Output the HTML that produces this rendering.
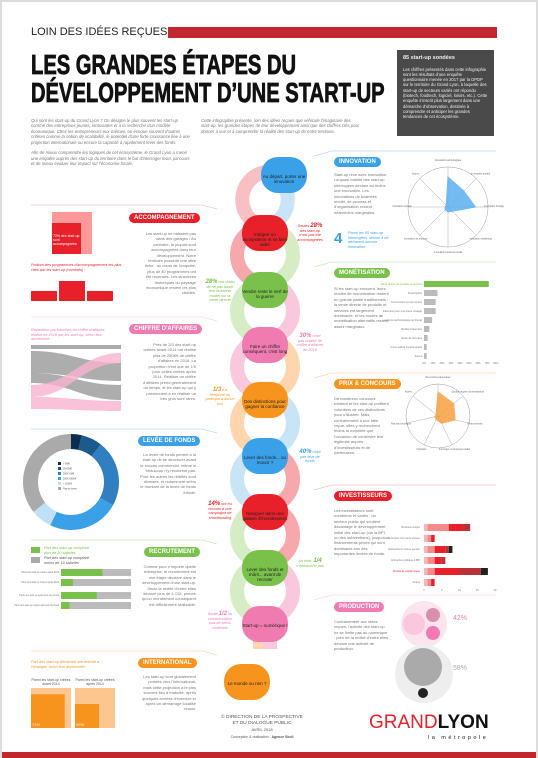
<!DOCTYPE html>
<html><head><meta charset="utf-8">
<style>
*{margin:0;padding:0;box-sizing:border-box}
body{width:538px;height:758px;background:#ddd;font-family:"Liberation Sans",sans-serif;overflow:hidden}
#page{position:absolute;left:2px;top:2px;width:534px;height:756px;background:#fff}
.a{position:absolute}
.t{font-size:4px;color:#777;line-height:5.4px}
.pill{position:absolute;color:#fff;font-weight:bold;font-size:6px;border-radius:6px;padding:2px 5px;white-space:nowrap}
.node{position:absolute;width:46px;height:36px;border-radius:17px;color:#222;font-size:4.5px;text-align:center;line-height:5px;padding-top:17px}
.cap{font-size:3.8px;font-style:italic;line-height:4.6px}
</style></head><body>
<div id="page">
<div class="a" style="left:29px;top:24px;font-size:11px;color:#222">LOIN DES IDÉES REÇUES</div>
<div class="a" style="left:166px;top:25px;width:329px;height:11px;background:#c1272d"></div>
<div class="a" style="left:29px;top:49px;font-size:28px;font-weight:bold;line-height:28px;white-space:nowrap;transform:scaleX(0.72);transform-origin:left top;color:#111;-webkit-text-stroke:0.8px #111">LES GRANDES ÉTAPES DU<br>DÉVELOPPEMENT D’UNE START-UP</div>
<div class="a" style="left:395px;top:48px;width:97px;height:86px;background:#4a4a4a;color:#eee;padding:5px 6px;font-size:4.2px;line-height:5.3px"><b style="font-size:5.5px">85 start-up sondées</b><br><br>Les chiffres présentés dans cette infographie sont les résultats d'une enquête questionnaire menée en 2017 par la DPDP sur le territoire du Grand Lyon, à laquelle des start-up de secteurs variés ont répondu (biotech, foodtech, logiciel, loisirs, etc.). Cette enquête s'inscrit plus largement dans une démarche d'observation, destinée à comprendre et anticiper les grandes tendances de cet écosystème.</div>
<div class="a t" style="left:29px;top:116px;width:160px;font-style:italic;font-size:4.3px">Qui sont les start-up du Grand Lyon ? On désigne le plus souvent les start-up comme des entreprises jeunes, innovantes et à la recherche d'un modèle économique. Chez les entrepreneurs eux-mêmes, on évoque souvent d'autres critères comme la notion de scalabilité, le potentiel d'une forte croissance liée à une projection internationale ou encore la capacité à rapidement lever des fonds.<br><br>Afin de mieux comprendre les logiques de cet écosystème, le Grand Lyon a mené une enquête auprès des start-up du territoire dans le but d'interroger leurs parcours et de mieux évaluer leur impact sur l'économie locale.</div>
<div class="a t" style="left:199px;top:116px;width:160px;font-style:italic;font-size:4.3px">Cette infographie présente, loin des idées reçues que véhicule l'imaginaire des start-up, les grandes étapes de leur développement ainsi que des chiffres clés pour donner à voir et à comprendre la réalité des start-up de notre territoire.</div>

<svg class="a" style="left:0;top:0" width="534" height="756">
<g fill="none" stroke-width="14">
<path d="M263 170 a28 28 0 0 0 0 55" stroke="#f9c0c4"/><path d="M263 170 a28 28 0 0 1 0 55" stroke="#c9e3f7"/>
<path d="M263 225 a28 28 0 0 0 0 56" stroke="#f7a8ad"/><path d="M263 225 a28 28 0 0 1 0 56" stroke="#d5ecc4"/>
<path d="M263 281 a28 28 0 0 0 0 56" stroke="#d5ecc4"/><path d="M263 281 a28 28 0 0 1 0 56" stroke="#f9c8dc"/>
<path d="M263 337 a28 28 0 0 0 0 56" stroke="#f9c8dc"/><path d="M263 337 a28 28 0 0 1 0 56" stroke="#fdd6b0"/>
<path d="M263 393 a28 28 0 0 0 0 56" stroke="#fdd6b0"/><path d="M263 393 a28 28 0 0 1 0 56" stroke="#c9e3f7"/>
<path d="M263 449 a28 28 0 0 0 0 56" stroke="#c9e3f7"/><path d="M263 449 a28 28 0 0 1 0 56" stroke="#f7a8ad"/>
<path d="M263 505 a28 28 0 0 0 0 56" stroke="#d5ecc4"/><path d="M263 505 a28 28 0 0 1 0 56" stroke="#f7a8ad"/>
<path d="M263 561 a28 28 0 0 0 0 56" stroke="#d5ecc4"/><path d="M263 561 a28 28 0 0 1 0 56" stroke="#f9c8dc"/>
<path d="M258 617 v30" stroke="#fdd6b0"/><path d="M268 617 v30" stroke="#f9c8dc"/>
</g>
<g stroke-width="0.6" fill="none">
<path d="M29 203 L200 203 L215 207" stroke="#f7a8ad"/><path d="M29 315 L200 315 L215 319" stroke="#f9c8dc"/>
<path d="M29 427 L200 427 L215 431" stroke="#9cc9ef"/><path d="M29 538 L200 538 L215 542" stroke="#b9dca3"/>
<path d="M29 649 L200 649 L215 653" stroke="#fdc28a"/>
<path d="M312 154 L330 149 L494 149" stroke="#9cc9ef"/><path d="M312 265 L330 260 L494 260" stroke="#b9dca3"/>
<path d="M312 376 L330 371 L494 371" stroke="#fdc28a"/><path d="M312 488 L330 483 L494 483" stroke="#f7a8ad"/>
<path d="M312 598 L330 593 L494 593" stroke="#f9c8dc"/>
</g>
</svg>

<div class="node" style="left:259px;top:155px;background:#3aa0e8">Au départ, porter une innovation</div>
<div class="node" style="left:240px;top:213px;background:#e8202a">Intégrer un écosystème et se faire aider</div>
<div class="node" style="left:240px;top:270px;background:#79c14a">Vendre reste le nerf de la guerre</div>
<div class="node" style="left:240px;top:325px;background:#f07bb0">Faire un chiffre conséquent, c'est long</div>
<div class="node" style="left:240px;top:380px;background:#f7941d">Des distinctions pour gagner la confiance</div>
<div class="node" style="left:240px;top:436px;background:#3aa0e8">Lever des fonds... ou mourir ?</div>
<div class="node" style="left:240px;top:492px;background:#e8202a">Naviguer dans une galaxie d'investisseurs</div>
<div class="node" style="left:240px;top:548px;background:#79c14a">Lever des fonds et mûrir... avant de recruter</div>
<div class="node" style="left:240px;top:604px;background:#f07bb0">Start-up = numérique !</div>
<div class="node" style="left:222px;top:662px;background:#f7941d">Le monde ou rien ?</div>

<div class="pill" style="left:127px;top:211px;background:#e8202a">ACCOMPAGNEMENT</div>
<div class="pill" style="left:127px;top:322px;background:#f07bb0">CHIFFRE D'AFFAIRES</div>
<div class="pill" style="left:136px;top:434px;background:#3aa0e8">LEVÉE DE FONDS</div>
<div class="pill" style="left:142px;top:545px;background:#79c14a">RECRUTEMENT</div>
<div class="pill" style="left:136px;top:656px;background:#f7941d">INTERNATIONAL</div>
<div class="pill" style="left:332px;top:155px;background:#3aa0e8">INNOVATION</div>
<div class="pill" style="left:332px;top:266px;background:#79c14a">MONÉTISATION</div>
<div class="pill" style="left:332px;top:377px;background:#f7941d">PRIX &amp; CONCOURS</div>
<div class="pill" style="left:332px;top:489px;background:#e8202a">INVESTISSEURS</div>
<div class="pill" style="left:332px;top:600px;background:#f07bb0">PRODUCTION</div>

<div class="a t" style="left:140px;top:229px;width:54px;text-align:right">Les start-up ne naissent pas dans des garages ! Au contraire, la plupart sont accompagnées dans leur développement. Notre territoire possède une offre riche : au cours de l'enquête, plus de 40 programmes ont été recensés. Les structures historiques du paysage économique restent les plus visibles.</div>
<div class="a t" style="left:140px;top:340px;width:54px;text-align:right">Près de 2/3 des start-up créées avant 2014 ont réalisé plus de 250K€ de chiffre d'affaires en 2016. La proportion n'est que de 1/5 pour celles créées après 2014. Réaliser un chiffre d'affaires prend généralement du temps, et les start-up qui y parviennent à en réaliser un très gros sont rares.</div>
<div class="a t" style="left:138px;top:450px;width:56px;text-align:right">La levée de fonds permet à la start-up de se structurer avant le succès commercial, même si beaucoup n'y recourent pas. Pour les autres les réalités sont diverses, et notamment selon le montant de la levée de fonds initiale.</div>
<div class="a t" style="left:138px;top:562px;width:56px;text-align:right">Comme pour n'importe quelle entreprise, le recrutement est une étape décisive dans le développement d'une start-up. Seule la moitié d'entre elles déclare plus de 4 CDI, preuve qu'un recrutement conséquent est difficilement réalisable.</div>
<div class="a t" style="left:138px;top:672px;width:56px;text-align:right">Les start-up sont globalement portées vers l'international, mais cette projection a le plus souvent lieu à maturité, après quelques années d'exercice et après un démarrage localisé réussi.</div>
<div class="a t" style="left:332px;top:170px;width:55px">Start-up rime avec innovation. La quasi-totalité des start-up interrogées déclare au moins une innovation. Les innovations de business model, de process et d'organisation restent néanmoins marginales.</div>
<div class="a" style="left:332px;top:228px;font-size:15px;font-weight:bold;color:#3aa0e8">4</div>
<div class="a cap" style="left:346px;top:229px;width:42px;color:#3aa0e8">Parmi les 85 start-up interrogées, seules 4 ne déclarent aucune innovation</div>
<div class="a t" style="left:332px;top:284px;width:55px">Si les start-up innovent, leurs modes de monétisation restent en grande partie traditionnels : la vente directe de produits et services est largement dominante, et les modes de monétisation alternatifs restent assez marginaux.</div>
<div class="a t" style="left:332px;top:394px;width:55px">De nombreux concours existent et les start-up profitent volontiers de ces distinctions pour s'illustrer. Mais, contrairement à une idée reçue, elles y recherchent moins la notoriété que l'occasion de construire leur légitimité auprès d'investisseurs et de partenaires.</div>
<div class="a t" style="left:332px;top:506px;width:55px">Les investisseurs sont nombreux et variés : du secteur public qui soutient davantage le développement initial des start-up (via la BPI ou des subventions), jusqu'aux financements privés qui sont dominants lors des importantes levées de fonds.</div>
<div class="a t" style="left:332px;top:617px;width:55px">Contrairement aux idées reçues, l'activité des start-up ne se limite pas au numérique : près de la moitié d'entre elles déclare une activité de production.</div>

<div class="a cap" style="left:294px;top:222px;width:28px;color:#e8202a;text-align:center">Seules <b style="font-size:6px">28%</b> des start-up n'ont pas été accompagnées</div>
<div class="a cap" style="left:203px;top:278px;width:30px;color:#79c14a;text-align:center"><b style="font-size:6px">28%</b> ont choisi de ne pas baser leur business model sur la vente directe</div>
<div class="a cap" style="left:294px;top:332px;width:28px;color:#f07bb0;text-align:center"><b style="font-size:6px">30%</b> n'ont pas réalisé de chiffre d'affaires en 2016</div>
<div class="a cap" style="left:203px;top:386px;width:30px;color:#f7941d;text-align:center"><b style="font-size:6px">1/3</b> n'a remporté ou participé à aucun prix</div>
<div class="a cap" style="left:294px;top:448px;width:28px;color:#3aa0e8;text-align:center"><b style="font-size:6px">40%</b> n'ont pas levé de fonds</div>
<div class="a cap" style="left:203px;top:500px;width:30px;color:#e8202a;text-align:center"><b style="font-size:6px">14%</b> ont eu recours à une campagne de crowdfunding</div>
<div class="a cap" style="left:294px;top:557px;width:28px;color:#79c14a;text-align:center">Au total, <b style="font-size:6px">1/4</b> n'embauche pas</div>
<div class="a cap" style="left:203px;top:610px;width:30px;color:#f07bb0;text-align:center">Seule <b style="font-size:6px">1/2</b> ne commercialise pas de biens matériels</div>

<div class="a" style="left:50px;top:210px;width:40px;height:42px;background:#f99"></div>
<div class="a" style="left:50px;top:221px;width:29px;height:31px;background:#e8202a;color:#fff;font-size:3.5px;padding:11px 1px 0">72% des start-up sont accompagnées</div>
<div class="a cap" style="left:29px;top:261px;width:95px;color:#e8202a">Podium des programmes d'accompagnement les plus cités par les start-up (nominés) :</div>
<div class="a" style="left:29px;top:289px;width:26px;height:10px;background:#e8202a"></div>
<div class="a" style="left:57px;top:279px;width:26px;height:20px;background:#e8202a"></div>
<div class="a" style="left:85px;top:289px;width:26px;height:10px;background:#e8202a"></div>
<div class="a cap" style="left:29px;top:326px;width:85px;color:#f07bb0">Répartition par tranches du chiffre d'affaires réalisé en 2016 par les start-up, selon leur ancienneté :</div>
<svg class="a" style="left:29px;top:341px" width="90" height="70">
<path d="M0 2 C40 2 50 2 90 2 L90 6 C50 6 40 6 0 6Z" fill="#aaa"/>
<path d="M0 8 C40 8 50 20 90 20 L90 38 C50 38 40 30 0 30Z" fill="#999" opacity=".8"/>
<path d="M0 30 C40 30 50 42 90 42 L90 57 C50 57 40 40 0 40Z" fill="#999" opacity=".8"/>
<path d="M0 42 C40 42 50 10 90 10 L90 20 C50 20 40 54 0 54Z" fill="#f9b3cf" opacity=".8"/>
<path d="M0 54 C40 54 50 58 90 58 L90 68 C50 68 40 66 0 66Z" fill="#f9b3cf" opacity=".8"/>
</svg>
<div class="a" style="left:29px;top:545px;width:9px;height:6px;background:#79c14a"></div>
<div class="a" style="left:29px;top:555px;width:9px;height:6px;background:#aaa"></div>
<div class="a cap" style="left:42px;top:544px;color:#79c14a">Part des start-up comptant<br>plus de 10 salariés</div>
<div class="a cap" style="left:42px;top:554px;color:#555">Part des start-up comptant<br>moins de 10 salariés</div>
<div class="a cap" style="left:29px;top:658px;width:80px;color:#f7941d">Part des start-up déclarant une activité à l'étranger, selon leur ancienneté :</div>
<div class="a" style="left:29px;top:676px;font-size:3.5px;width:40px;text-align:center;color:#555">Parmi les start-up créées avant 2014</div>
<div class="a" style="left:73px;top:676px;font-size:3.5px;width:40px;text-align:center;color:#555">Parmi les start-up créées après 2014</div>
<svg class="a" style="left:0;top:0" width="534" height="756" id="charts"></svg>

<div class="a" style="left:210px;top:713px;width:100px;text-align:center;font-size:4.8px;color:#555;line-height:6px">© DIRECTION DE LA PROSPECTIVE<br>ET DU DIALOGUE PUBLIC<br><span style="font-size:4px">AVRIL 2018</span><br><span style="font-size:3.5px">Conception &amp; réalisation : <b>Agence Skoli</b></span></div>
<div class="a" style="left:367px;top:711px;font-size:19px;color:#e8202a;line-height:20px;white-space:nowrap">GRAND<b style="color:#111">LYON</b></div>
<div class="a" style="left:426px;top:733px;font-size:5.5px;letter-spacing:2.5px;color:#222">la métropole</div>
<div class="a" style="left:0;top:750px;width:534px;height:6px;background:#c1272d"></div>
</div>
<script>
const monetCats=["Vente directe de produits & services","Souscription","Commission sur les ventes","Paiement pour une durée d'usage","Licence technologique ou brevet","Modèle Freemium","Vente de données","Cross-selling & partenariats","Autres"];
const monetVals=[72,15,13,13,9,6,4,3,3];
const monetTicks=[0,10,20,30,40,50,60,70,80];
const recrutCats=["créées avant 2014","créées après 2014","ayant levé des fonds","n'ayant pas levé de fonds"];
const recrutPlus10=[59,17,51,12];
const investCats=["Business Angels","Entreprise d'un autre secteur","Entreprise du même secteur","Entreprise publique & BPI","Société de capital risque","Autres"];
const investS1=[1,1,1,1,1,1];
const investS2=[6,1,2,2,2,1];
const investS3=[4,1,3,2,7,1];
const investS4=[2,0,1,1,6,0];
const investS5=[0,0,1,0,2,0];
const innovAxes=["Innovation technologique","Innovation produit","Innovation d'usage","Innovation marketing","Innovation business model","Innovation de process","Innovation sociale","Autres"];
const innovVals=[60,45,55,12,10,8,6,5];
const prixAxes=["Rencontres partenaires","Caution auprès d'investisseurs","Financements","Interroger un business model","Notoriété","Pas très bénéfique","Autres"];
const prixVals=[30,25,22,10,5,4,3];
const donutLabels=["> 5M€","2M-5M€","500K-2M€","200K-500K€","< 200K€","Pas de levée"];
const donutVals=[4,8,25,27,8,40];
const intlVals=[71,36];
const NS="http://www.w3.org/2000/svg";
const svg=document.getElementById('charts');
function mk(t,a,name){const e=document.createElementNS(NS,t);for(const k in a)e.setAttribute(k,a[k]);


svg.appendChild(e);return e;}
function txt(x,y,s,size,fill,anchor,name){const e=mk('text',{x:x,y:y,'font-size':size,fill:fill,'text-anchor':anchor||'start','font-family':'Liberation Sans'},name);e.textContent=s;return e;}
const mx=l=>422+l/80*72;const my=i=>279+i*9;
monetCats.forEach((c,i)=>{mk('rect',{x:mx(0),y:my(i),width:mx(monetVals[i])-mx(0),height:6,fill:i==0?'#79c14a':'#bbb'},'monet-bar');txt(420,my(i)+4,c,2.6,i==0?'#79c14a':'#777','end','monet-label');});
monetTicks.forEach(t=>txt(mx(t),362,t+'%',2.5,'#777','middle','monet-tick'));
const rx=v=>59+v/100*70;const ry=[567,577,590,600];
recrutCats.forEach((c,i)=>{mk('rect',{x:rx(0),y:ry[i],width:70,height:7,fill:'#bbb'},'recrut-bar-bg');mk('rect',{x:rx(0),y:ry[i],width:rx(recrutPlus10[i])-rx(0),height:7,fill:'#79c14a'},'recrut-bar');txt(57,ry[i]+4,'Parmi les start-up '+c,2.3,'#777','end','recrut-label');});
const ix=v=>422+v/20*71;const iy=i=>522+i*11;const icol=['#f4b6b6','#f58a8a','#e8202a','#b83238','#222'];
investCats.forEach((c,i)=>{let acc=0;[investS1,investS2,investS3,investS4,investS5].forEach((s,k)=>{if(s[i]>0){mk('rect',{x:ix(acc),y:iy(i),width:ix(acc+s[i])-ix(acc),height:7,fill:icol[k]},'invest-seg');}acc+=s[i];});txt(418,iy(i)+4,c,2.5,i==4?'#e8202a':'#777','end','invest-label');});
[0,5,10,15,20].forEach(t=>txt(ix(t),589,t,2.5,'#777','middle','invest-tick'));
function radar(cx,cy,r,axes,vals,max,col,name){const n=axes.length;mk('circle',{cx:cx,cy:cy,r:r,fill:'none',stroke:'#999','stroke-width':0.5},name+'-ring');
const pts=[];axes.forEach((a,i)=>{const an=-Math.PI/2+i*2*Math.PI/n;mk('line',{x1:cx,y1:cy,x2:cx+r*Math.cos(an),y2:cy+r*Math.sin(an),stroke:'#999','stroke-width':0.4},name+'-axis');
const rr=vals[i]/max*r;pts.push((cx+rr*Math.cos(an))+','+(cy+rr*Math.sin(an)));txt(cx+(r+6)*Math.cos(an),cy+(r+6)*Math.sin(an),a,2.4,'#666','middle',name+'-label');});
mk('polygon',{points:pts.join(' '),fill:col,opacity:0.85,stroke:col},name+'-area');}
radar(446,205,40,innovAxes,innovVals,80,'#5bb0ef','innov-radar');
radar(436,414,32,prixAxes,prixVals,40,'#f7a040','prix-radar');
let a0=-Math.PI/2;const dt=donutVals.reduce((a,b)=>a+b,0);const dcol=['#0d2d4d','#1b5a8a','#2f7fc1','#3aa0e8','#bfe0f8','#aaa'];
donutVals.forEach((v,i)=>{const a1=a0+v/dt*2*Math.PI;const R=48,r=33,cx=69,cy=480;const lg=(a1-a0)>Math.PI?1:0;
const d=`M${cx+R*Math.cos(a0)} ${cy+R*Math.sin(a0)} A${R} ${R} 0 ${lg} 1 ${cx+R*Math.cos(a1)} ${cy+R*Math.sin(a1)} L${cx+r*Math.cos(a1)} ${cy+r*Math.sin(a1)} A${r} ${r} 0 ${lg} 0 ${cx+r*Math.cos(a0)} ${cy+r*Math.sin(a0)}Z`;
mk('path',{d:d,fill:dcol[i]},'donut-slice');mk('rect',{x:56,y:460+i*5,width:3,height:3,fill:dcol[i]},'donut-legend-swatch');txt(61,462.5+i*5,donutLabels[i],2.4,'#555','start','donut-legend-label');a0=a1;});
intlVals.forEach((v,i)=>{const x=29+i*44,s=40;mk('rect',{x:x,y:686,width:s,height:40,fill:'#fdc68f'},'intl-bg');const ss=s*Math.sqrt(v/100);mk('rect',{x:x,y:726-ss,width:ss,height:ss,fill:'#f7941d'},'intl-fill');txt(x+1,724,v+'%',4,'#fff','start','intl-value');});
mk('circle',{cx:422,cy:622,r:23,fill:'#fce4ee'},'prod-bubble');mk('circle',{cx:412,cy:622,r:11,fill:'#f9c8dc'},'prod-bubble');mk('circle',{cx:431,cy:613,r:7,fill:'#d890ad'},'prod-bubble');mk('circle',{cx:431,cy:631,r:7,fill:'#f07bb0'},'prod-bubble');
mk('circle',{cx:422,cy:672,r:29,fill:'#eee'},'prod-bubble');mk('circle',{cx:421,cy:665,r:19,fill:'#aaa'},'prod-bubble');mk('circle',{cx:421,cy:691,r:5,fill:'#222'},'prod-bubble');
txt(451,618,'42%',7,'#f07bb0','start','prod-42');txt(451,668,'58%',7,'#aaa','start','prod-58');
</script>
</body></html>
